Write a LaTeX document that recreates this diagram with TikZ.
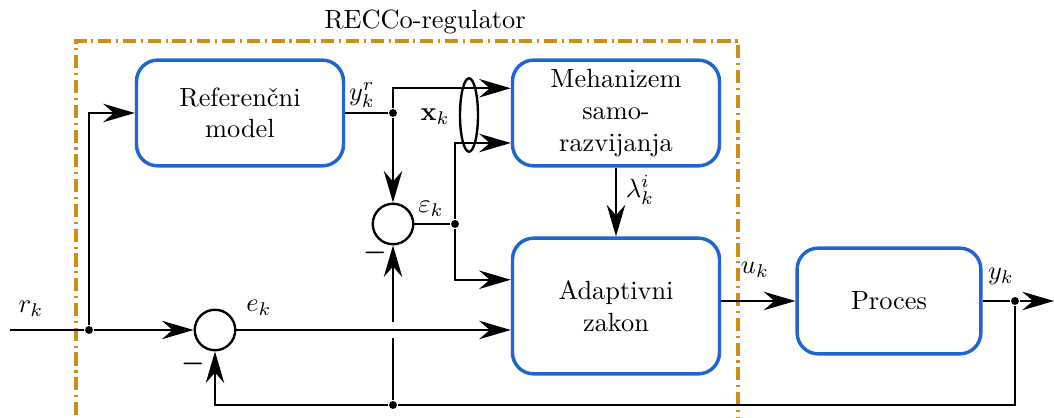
\documentclass[tikz,border=0pt]{standalone}
\usepackage{amsmath, amssymb}
\usepackage{tikz}
\usetikzlibrary{calc, arrows.meta}
\usepackage{xcolor}
\definecolor{modra}{RGB}{31,100,208}
\definecolor{zlata}{RGB}{204,142,20}

\tikzset{
  blok/.style={draw=modra, line width=1.3pt, rounded corners=8pt, align=center,
    minimum width=2.76cm, minimum height=1.41cm, fill=white},
  vsota/.style={draw, circle, line width=0.9pt, minimum size=0.54cm, inner sep=0pt},
  pik/.style={circle, fill, inner sep=0pt, minimum size=3pt},
  puscica/.style={-{Stealth[length=12pt, width=7pt, inset=4pt]}},
}

\begin{document}
\begin{tikzpicture}[x=0.01333cm, y=-0.01333cm, line width=0.8pt]
            \useasboundingbox (0,0) rectangle (1054,418);
            \clip (0,0) rectangle (1054,418);
            % okvir regulatorja
            \draw[zlata, line width=1.3pt, dash pattern=on 5pt off 1.8pt on 0.8pt off 1.8pt]
                (76,440) -- (76,41) -- (738,41) -- (738,440);
            \node (naslov) at (425,22) {RECCo-regulator};
            % bloki
            \node[blok] (ref) at (240,113) {Referen\v{c}ni\\model};
            \node[blok, inner ysep=2pt] (meh) at (616,113) {Mehanizem\\samo-\\razvijanja};
            \node[blok, minimum height=1.81cm] (adapt) at (616,306) {Adaptivni\\zakon};
            \node[blok, minimum width=2.45cm] (proc) at (889,301) {Proces};
            \node[vsota] (s1) at (393,224) {};
            \node[vsota] (s2) at (215,330) {};
            % tocke
            \coordinate (vhod) at (10,330);
            \coordinate (izhod) at (1054,301);
            \node[pik] (d1) at (89,330) {};
            \node[pik] (d2) at (ref.east -| s1) {};
            \node[pik] (d3) at (455,224) {};
            \node[pik] (d4) at (393,405) {};
            \node[pik] (d5) at (1015,301) {};
            % povezave
            \draw (vhod) -- (d1);
            \draw[puscica] (d1) -- (s2);
            \draw[puscica] (d1) |- (ref.west);
            \draw (ref.east) -- (d2);
            \draw[puscica] (d2) |- ([yshift=0.33cm]meh.west);
            \draw[puscica] (d2) -- (s1);
            \draw (s1) -- (d3);
            \draw[puscica] (d3) |- ([yshift=-0.4cm]meh.west);
            \draw[puscica] (d3) |- ([yshift=0.35cm]adapt.west);
            \draw[puscica] (s2) -- (s2 -| adapt.west);
            \draw[puscica] (meh) -- (adapt);
            \draw[puscica] (adapt.east |- proc.west) -- (proc.west);
            \draw (proc.east) -- (d5);
            \draw[puscica] (d5) -- (izhod);
            \draw (d5) |- (d4);
            \draw[puscica] (d4) -| (s2);
            \draw (d4) -- ($(s2 -| d4)+(0,8)$);
            \draw[puscica] ($(s2 -| d4)+(0,-8)$) -- (s1);
            \draw[line width=0.9pt] (469,115) ellipse [x radius=0.12cm, y radius=0.49cm];
            % oznake
            \node (lyr) at (362,95) {$y_k^r$};
            \node (lx) at (435,117) {$\mathbf{x}_k$};
            \node (leps) at (431,209) {$\varepsilon_k$};
            \node (llam) at (640,190) {$\lambda_k^i$};
            \node (lu) at (755,270) {$u_k$};
            \node (ly) at (1001,276) {$y_k$};
            \node (lr) at (31,309) {$r_k$};
            \node (le) at (259,308) {$e_k$};
            \node (m1) at (375,253) {$\boldsymbol{-}$};
            \node (m2) at (193,364) {$\boldsymbol{-}$};
        \end{tikzpicture}
\end{document}
